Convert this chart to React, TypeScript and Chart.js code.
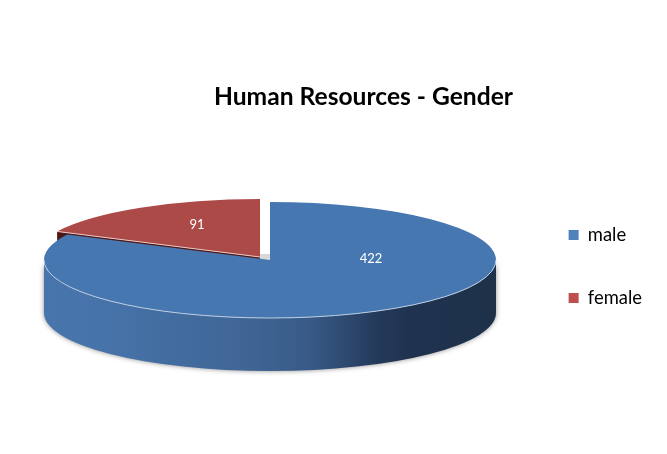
import React, { useEffect, useRef } from "react";
import { Chart, registerables } from "chart.js";

Chart.register(...registerables);

const titleText = "Human Resources - Gender";
const categories = ["male", "female"];
const values = [422, 91];
const sliceColors = ["#4777b1", "#ab4a47"];
const legendColors = ["#4f81bd", "#be4f4c"];

// 3D projection of the pie
const CENTER_X = 270;
const CENTER_Y = 260;
const RADIUS_X = 226;
const RADIUS_Y = 58;
const DEPTH = 53;
const explode = [
  { x: 0, y: 0 },
  { x: -10, y: -3 },
];
const labelShift = [
  { x: 101, y: -1 },
  { x: -73, y: -35 },
];

const pie3d = {
  id: "pie3d",
  beforeDatasetsDraw(chart: any) {
    const ctx: CanvasRenderingContext2D = chart.ctx;
    const arcs = chart.getDatasetMeta(0).data;
    const female = arcs[1];
    const at = (i: number, a: number) => ({
      x: CENTER_X + explode[i].x + RADIUS_X * Math.cos(a),
      y: CENTER_Y + explode[i].y + RADIUS_Y * Math.sin(a),
    });
    const drawTop = (i: number) => {
      const arc = arcs[i];
      ctx.save();
      ctx.translate(CENTER_X + explode[i].x, CENTER_Y + explode[i].y);
      ctx.scale(RADIUS_X / arc.outerRadius, RADIUS_Y / arc.outerRadius);
      ctx.translate(-arc.x, -arc.y);
      arc.draw(ctx);
      ctx.restore();
    };

    // cut face of the exploded slice
    const tip = at(1, female.startAngle);
    const apex = { x: CENTER_X + explode[1].x, y: CENTER_Y + explode[1].y };
    ctx.save();
    ctx.fillStyle = "#4f1614";
    ctx.beginPath();
    ctx.moveTo(tip.x, tip.y);
    ctx.lineTo(apex.x, apex.y);
    ctx.lineTo(apex.x, apex.y + DEPTH);
    ctx.lineTo(tip.x, tip.y + DEPTH);
    ctx.closePath();
    ctx.fill();
    ctx.restore();

    // smudge at the apex gap
    ctx.save();
    ctx.fillStyle = "rgba(190,190,190,0.6)";
    ctx.fillRect(apex.x, apex.y - 3, CENTER_X - apex.x, CENTER_Y - apex.y + 3);
    ctx.restore();

    // outer wall of the big slice
    const grad = ctx.createLinearGradient(CENTER_X - RADIUS_X, 0, CENTER_X + RADIUS_X, 0);
    grad.addColorStop(0, "#4775ac");
    grad.addColorStop(0.12, "#4674aa");
    grad.addColorStop(0.456, "#3f6595");
    grad.addColorStop(0.59, "#385a86");
    grad.addColorStop(0.74, "#24395a");
    grad.addColorStop(0.81, "#1f3350");
    grad.addColorStop(1, "#1e3149");
    ctx.save();
    ctx.shadowColor = "rgba(0,0,0,0.45)";
    ctx.shadowBlur = 5;
    ctx.fillStyle = grad;
    ctx.beginPath();
    ctx.ellipse(CENTER_X, CENTER_Y + DEPTH, RADIUS_X, RADIUS_Y, 0, Math.PI, 0, true);
    ctx.ellipse(CENTER_X, CENTER_Y, RADIUS_X, RADIUS_Y, 0, 0, Math.PI, false);
    ctx.closePath();
    ctx.fill();
    ctx.restore();

    drawTop(0);
    drawTop(1);

    // light rims
    ctx.save();
    ctx.lineWidth = 1;
    ctx.strokeStyle = "#bccde3";
    ctx.beginPath();
    ctx.ellipse(CENTER_X, CENTER_Y, RADIUS_X, RADIUS_Y, 0, Math.PI, 0, true);
    ctx.stroke();
    ctx.strokeStyle = "#e8c8c6";
    ctx.beginPath();
    ctx.moveTo(tip.x, tip.y);
    ctx.lineTo(apex.x, apex.y);
    ctx.stroke();
    ctx.restore();

    // data labels
    ctx.save();
    ctx.fillStyle = "#ffffff";
    ctx.font = "13px Lato";
    ctx.textAlign = "center";
    ctx.textBaseline = "middle";
    values.forEach((v, i) => {
      ctx.fillText(String(v), CENTER_X + labelShift[i].x, CENTER_Y + labelShift[i].y);
    });
    ctx.restore();
    return false;
  },
};

export default function App() {
  const ref = useRef<HTMLCanvasElement>(null);
  useEffect(() => {
    const chart = new Chart(ref.current as HTMLCanvasElement, {
      type: "pie",
      plugins: [pie3d],
      data: {
        labels: categories,
        datasets: [{ data: values, backgroundColor: sliceColors, borderWidth: 0 }],
      },
      options: {
        animation: false,
        responsive: false,
        devicePixelRatio: 1,
        layout: { padding: { left: 214, top: 80, bottom: 1, right: 15 } },
        plugins: {
          tooltip: { enabled: false },
          title: {
            display: true,
            text: titleText,
            align: "start",
            color: "#000000",
            font: { family: "Lato", size: 24.6, weight: "bold" },
            padding: { top: 2, bottom: 10 },
          },
          legend: {
            position: "right",
            labels: {
              color: "#000000",
              font: { family: "Lato", size: 18.4 },
              boxWidth: 10,
              boxHeight: 10,
              padding: 44.6,
              generateLabels: () =>
                categories.map((text, i) => ({
                  text,
                  fillStyle: legendColors[i],
                  strokeStyle: legendColors[i],
                  lineWidth: 0,
                  index: i,
                })),
            },
          },
        },
      },
    } as any);
    return () => chart.destroy();
  }, []);
  return (
    <canvas
      ref={ref}
      width={667}
      height={454}
      style={{ position: "fixed", left: 0, top: 0, width: 667, height: 454, background: "#ffffff" }}
    />
  );
}
